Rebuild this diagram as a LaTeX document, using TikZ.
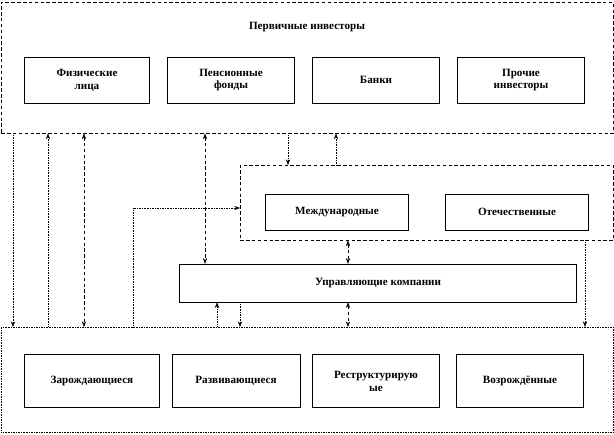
\documentclass[tikz,border=0pt]{standalone}
\usepackage{fontspec}
\setmainfont{Liberation Serif}
\usetikzlibrary{arrows.meta,calc,positioning}

\begin{document}
\begin{tikzpicture}[>=Stealth,x=0.03cm,y=-0.03cm]
    \tikzstyle{group}=[draw,densely dashed,inner sep=0pt]
    \tikzstyle{unit}=[draw,thin,font=\bfseries\fontsize{9.5}{11}\selectfont,align=center,inner sep=0pt]
    \tikzstyle{flow}=[densely dotted,->]
    \tikzstyle{both}=[densely dashed,<->]
    \useasboundingbox (0,0) rectangle (614,434);
    % groups
    \node[group,minimum width=18.36cm,minimum height=3.93cm,anchor=north west] (inv) at (1,2) {};
    \node[group,minimum width=11.19cm,minimum height=2.25cm,anchor=north west] (mid) at (240,165) {};
    \node[group,densely dotted,minimum width=18.36cm,minimum height=3.15cm,anchor=north west] (firms) at (1,327) {};
    \node[font=\bfseries\fontsize{9.5}{11}\selectfont] (title) at (307,27) {Первичные инвесторы};
    % investors
    \node[unit,minimum width=3.75cm,minimum height=1.38cm] (phys) at (87,80) {Физические\\лица};
    \node[unit,minimum width=3.8cm,minimum height=1.38cm] (pens) at (231,80) {Пенсионные\\фонды};
    \node[unit,minimum width=3.8cm,minimum height=1.38cm] (bank) at (376,80) {Банки};
    \node[unit,minimum width=3.8cm,minimum height=1.38cm] (other) at (521,80) {Прочие\\инвесторы};
    % funds
    \node[unit,minimum width=4.3cm,minimum height=1.08cm] (intl) at (337,212) {Международные};
    \node[unit,minimum width=4.3cm,minimum height=1.08cm] (dom) at (517,212) {Отечественные};
    \node[unit,minimum width=11.9cm,minimum height=1.14cm] (mgmt) at (378,283) {Управляющие компании};
    % firms
    \node[unit,minimum width=4.05cm,minimum height=1.59cm] (born) at (92,381) {Зарождающиеся};
    \node[unit,minimum width=3.85cm,minimum height=1.59cm] (grow) at (236,381) {Развивающиеся};
    \node[unit,minimum width=3.8cm,minimum height=1.59cm] (restr) at (376,381) {Реструктурирую\\ые};
    \node[unit,minimum width=3.8cm,minimum height=1.59cm] (reborn) at (520,381) {Возрождённые};
    % connectors
    \draw[flow] (inv.south west -| 13,0) -- (firms.north west -| 13,0);
    \draw[flow,<-] (inv.south west -| 48,0) -- (firms.north west -| 48,0);
    \draw[both] (inv.south west -| 84,0) -- (firms.north west -| 84,0);
    \draw[both] (inv.south west -| 205,0) -- (mgmt.north west -| 205,0);
    \draw[flow] (inv.south west -| 288,0) -- (mid.north west -| 288,0);
    \draw[flow,<-] (inv.south west -| 336,0) -- (mid.north west -| 336,0);
    \draw[flow] (firms.north west -| 133,0) |- (mid.west |- 0,208);
    \draw[both] (mid.south west -| 348,0) -- (mgmt.north west -| 348,0);
    \draw[flow,<-] (mgmt.south west -| 217,0) -- (firms.north west -| 217,0);
    \draw[flow] (mgmt.south west -| 240,0) -- (firms.north west -| 240,0);
    \draw[both] (mgmt.south west -| 348,0) -- (firms.north west -| 348,0);
    \draw[flow] (mid.south west -| 585,0) -- (firms.north west -| 585,0);
\end{tikzpicture}
\end{document}
